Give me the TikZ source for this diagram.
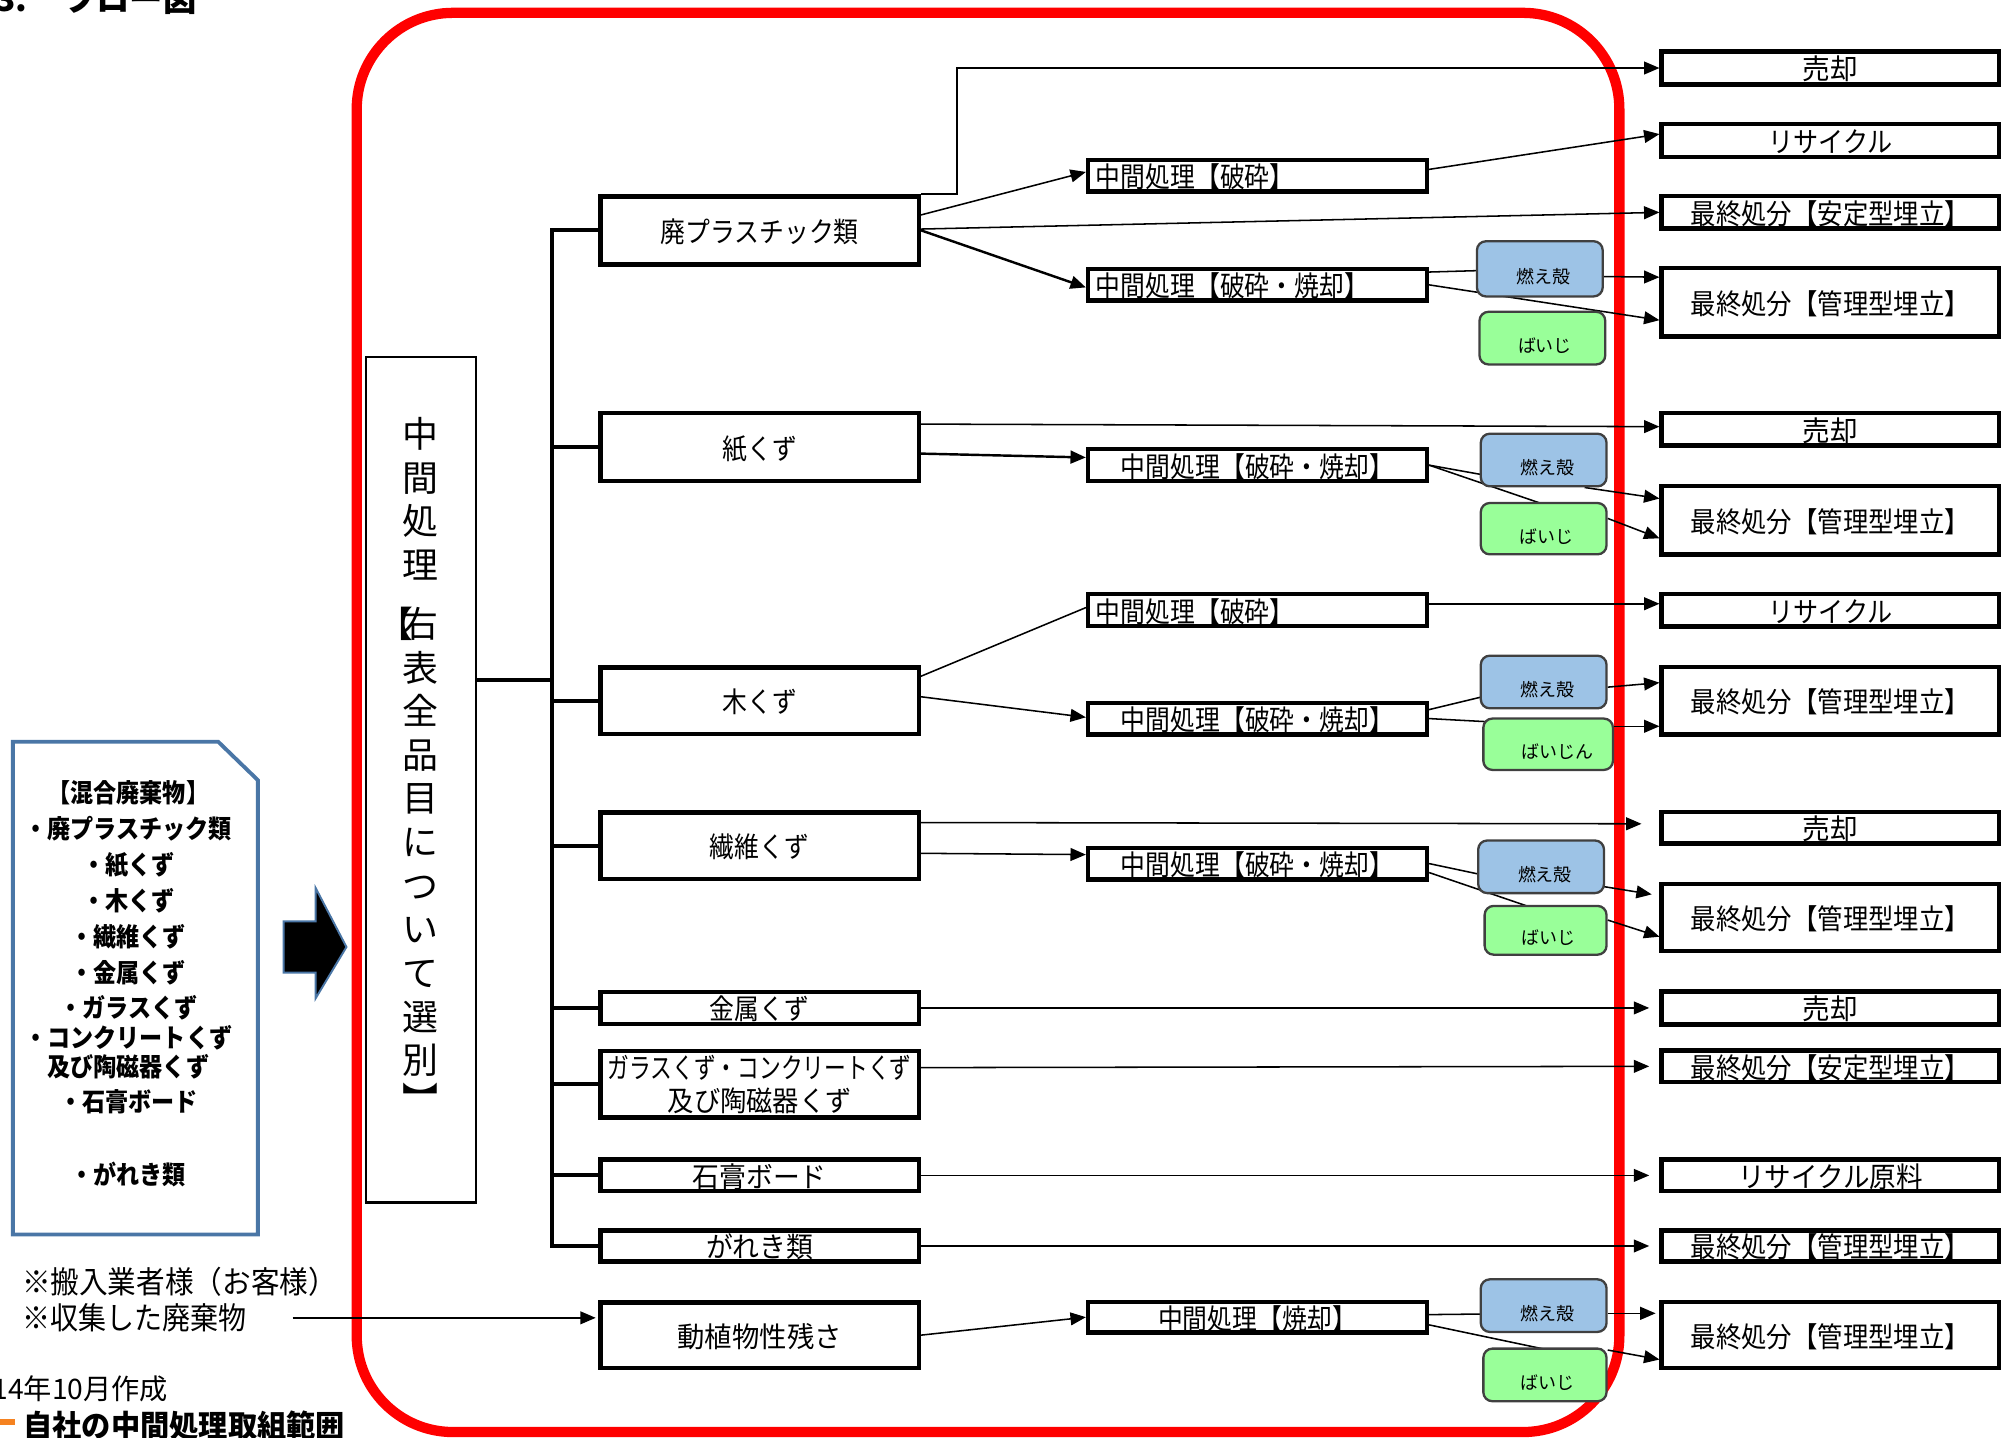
\documentclass[tikz,border=0pt]{standalone}
\usepackage{fontspec}
\setmainfont{Noto Sans CJK JP}
\usepackage{graphicx}
\usetikzlibrary{arrows.meta,calc,backgrounds}
\newcommand\hs[2][0.88]{\scalebox{#1}[1]{#2}}
\definecolor{redline}{HTML}{FF0000}
\definecolor{bluefill}{HTML}{9DC3E6}
\definecolor{greenfill}{HTML}{99FF99}
\definecolor{boxgray}{HTML}{404040}
\definecolor{leftblue}{HTML}{4A76A6}
\definecolor{legendorange}{HTML}{F58220}
\begin{document}
\begin{tikzpicture}[x=1pt,y=-1pt,
  bxbase/.style={draw, line width=3.5pt, fill=white, inner sep=0pt, font=\fontsize{22}{26}\selectfont},
  bx/.style={bxbase, text height=18.5pt, text depth=0pt},
  catbox/.style={bx, minimum width=248pt},
  midbox/.style={bx, minimum width=264pt},
  resbox/.style={bx, minimum width=263pt},
  bbox/.style={draw=boxgray, line width=1.8pt, rounded corners=7pt, fill=bluefill, inner sep=0pt, minimum width=98pt, minimum height=41pt},
  gbox/.style={draw=boxgray, line width=1.8pt, rounded corners=7pt, fill=greenfill, inner sep=0pt, minimum width=98pt, minimum height=40pt},
  smalltxt/.style={inner sep=0pt, font=\fontsize{14}{16}\selectfont},
  ln/.style={line width=1.2pt},
  arr/.style={line width=1.2pt, -{Triangle[length=12pt,width=10pt]}},
  arrb/.style={line width=1.9pt, -{Triangle[length=12pt,width=10pt]}},
  brk/.style={line width=3pt},
  plain/.style={inner sep=0pt, anchor=west}
]
\useasboundingbox (0,0) rectangle (1568,1120);

% title and notes
\node[plain, anchor=base west, font=\fontsize{26}{28}\selectfont\bfseries] (ttl) at (-4,9) {3.\kern 28pt フロー図};
\node[plain, font=\fontsize{24}{26}\selectfont] (n1) at (17,999) {\hs[0.93]{※搬入業者様（お客様）}};
\node[plain, font=\fontsize{24}{26}\selectfont] (n2) at (17,1027) {\hs[0.91]{※収集した廃棄物}};
\coordinate (c0) at (228,1027);
\node[plain, font=\fontsize{22}{24}\selectfont] (n3) at (-6,1082) {14年10月作成};
\draw[legendorange, line width=5pt] (-2,1108) -- (12,1108);
\node[plain, font=\fontsize{24}{26}\selectfont\bfseries] (n4) at (18,1111) {\hs[0.95]{自社の中間処理取組範囲}};

% left source box
\draw[leftblue, line width=3pt] (10,578) -- (170,578) -- (201,608) -- (201,962) -- (10,962) -- cycle;
\node[inner sep=0pt, anchor=north, align=center, font=\fontsize{20}{28}\selectfont\bfseries] (mix) at (100,608) {%
\hs[0.9]{【混合廃棄物】}\\
\hs[0.9]{・廃プラスチック類}\\
\hs[0.9]{・紙くず}\\
\hs[0.9]{・木くず}\\
\hs[0.9]{・繊維くず}\\
\hs[0.9]{・金属くず}\\
\hs[0.9]{・ガラスくず}\\[-5pt]
\hs[0.9]{・コンクリートくず}\\[-5pt]
\hs[0.9]{及び陶磁器くず}\\[-1pt]
\hs[0.9]{・石膏ボード}\\[29pt]
\hs[0.9]{・がれき類}};
\draw[leftblue, fill=black, line width=1.5pt] (221,718) -- (246,718) -- (246,692) -- (270,738) -- (246,778) -- (246,758) -- (221,758) -- cycle;

% tall sorting box
\node[draw, line width=1.8pt, fill=white, minimum width=86pt, minimum height=659pt] (t) at (328,607.5) {};
\node[inner sep=0pt, anchor=north, align=center, font=\fontsize{28}{34}\selectfont] (vt) at (328,325) {%
中\\間\\処\\理\\[12pt]\llap{【\kern-0.3em}右\\表\\全\\品\\目\\に\\つ\\い\\て\\選\\別\\[-3pt]︼};

% category boxes
\node[catbox, minimum height=53pt] (pl) at (592,179.5) {\hs{廃プラスチック類}};
\node[catbox, minimum height=53pt] (pa) at (592,348.5) {\hs{紙くず}};
\node[catbox, minimum height=52pt] (wo) at (592,546) {\hs{木くず}};
\node[catbox, minimum height=52pt] (fi) at (592,659) {\hs{繊維くず}};
\node[catbox, minimum height=25pt] (me) at (592,785.5) {\hs{金属くず}};
\node[bxbase, minimum width=248pt, minimum height=52pt, align=center] (gl) at (592,845) {\hs[0.77]{ガラスくず・コンクリートくず}\\\hs[0.93]{及び陶磁器くず}};
\node[catbox, minimum height=24.5pt] (gy) at (592,916) {\hs[0.95]{石膏ボード}};
\node[catbox, minimum height=24.5pt] (ru) at (592,971) {\hs[0.95]{がれき類}};
\node[catbox, minimum height=51pt] (an) at (592,1040.5) {\hs[0.97]{動植物性残さ}};

% intermediate boxes
\node[midbox, minimum height=24.5pt, text width=252pt, align=left] (m1) at (980,137) {\hs{中間処理【破砕】}};
\node[midbox, minimum height=24.5pt, text width=252pt, align=left] (m2) at (980,222) {\hs{中間処理【破砕・焼却】}};
\node[midbox, minimum height=25pt] (m3) at (980,362.5) {\hs{中間処理【破砕・焼却】}};
\node[midbox, minimum height=25pt, text width=252pt, align=left] (m4) at (980,475.5) {\hs{中間処理【破砕】}};
\node[midbox, minimum height=24.5pt] (m5) at (980,560) {\hs{中間処理【破砕・焼却】}};
\node[midbox, minimum height=24.5pt] (m6) at (980,673) {\hs{中間処理【破砕・焼却】}};
\node[midbox, minimum height=23.5pt] (m7) at (980,1026.5) {\hs{中間処理【焼却】}};

% result boxes
\node[resbox, minimum height=26pt] (r1) at (1426.5,53) {\hs[0.98]{売却}};
\node[resbox, minimum height=25.5pt] (r2) at (1426.5,109.5) {\hs[0.89]{リサイクル}};
\node[resbox, minimum height=25.5pt] (r3) at (1426.5,165.5) {\hs[0.9]{最終処分【安定型埋立】}};
\node[resbox, minimum height=53.5pt] (r4) at (1426.5,235.5) {\hs[0.9]{最終処分【管理型埋立】}};
\node[resbox, minimum height=25.5pt] (r5) at (1426.5,334.5) {\hs[0.98]{売却}};
\node[resbox, minimum height=53.5pt] (r6) at (1426.5,405.5) {\hs[0.9]{最終処分【管理型埋立】}};
\node[resbox, minimum height=25.5pt] (r7) at (1426.5,475.5) {\hs[0.89]{リサイクル}};
\node[resbox, minimum height=52.5pt] (r8) at (1426.5,546) {\hs[0.9]{最終処分【管理型埋立】}};
\node[resbox, minimum height=24.5pt] (r9) at (1426.5,645) {\hs[0.98]{売却}};
\node[resbox, minimum height=52.5pt] (r10) at (1426.5,715) {\hs[0.9]{最終処分【管理型埋立】}};
\node[resbox, minimum height=25.5pt] (r11) at (1426.5,785.5) {\hs[0.98]{売却}};
\node[resbox, minimum height=24.5pt] (r12) at (1426.5,831) {\hs[0.9]{最終処分【安定型埋立】}};
\node[resbox, minimum height=24.5pt] (r13) at (1426.5,916) {\hs[0.94]{リサイクル原料}};
\node[resbox, minimum height=24.5pt] (r14) at (1426.5,971) {\hs[0.9]{最終処分【管理型埋立】}};
\node[resbox, minimum height=51.5pt] (r15) at (1426.5,1040.5) {\hs[0.9]{最終処分【管理型埋立】}};

% residue boxes
\node[bbox, minimum height=43pt] (b1) at (1200,209.5) {};
\node[gbox, minimum height=41pt] (g1) at (1202,263.5) {};
\node[bbox] (b2) at (1203,358.5) {};
\node[gbox] (g2) at (1203,412) {};
\node[bbox] (b3) at (1203,531.5) {};
\node[gbox, minimum width=101pt] (g3) at (1206.5,580) {};
\node[bbox] (b4) at (1201,675.5) {};
\node[gbox, minimum width=95pt, minimum height=38pt] (g4) at (1204.5,725) {};
\node[bbox] (b5) at (1203,1017.5) {};
\node[gbox, minimum width=96pt, minimum height=41pt] (g5) at (1204,1071.5) {};
\node[smalltxt] (b1t) at ($(b1.center)+(3,6)$) {燃え殻};
\node[smalltxt] (g1t) at ($(g1.center)+(2,6)$) {ばいじ};
\node[smalltxt] (b2t) at ($(b2.center)+(3,6)$) {燃え殻};
\node[smalltxt] (g2t) at ($(g2.center)+(2,6)$) {ばいじ};
\node[smalltxt] (b3t) at ($(b3.center)+(3,6)$) {燃え殻};
\node[smalltxt] (g3t) at ($(g3.center)+(7,6)$) {ばいじん};
\node[smalltxt] (b4t) at ($(b4.center)+(3,6)$) {燃え殻};
\node[smalltxt] (g4t) at ($(g4.center)+(2,6)$) {ばいじ};
\node[smalltxt] (b5t) at ($(b5.center)+(3,6)$) {燃え殻};
\node[smalltxt] (g5t) at ($(g5.center)+(2,6)$) {ばいじ};

\coordinate (bx) at (430,0);

\begin{scope}[on background layer]
\draw[redline, line width=8pt, rounded corners=75pt] (278,10) rectangle (1262,1116);

% bracket
\draw[brk] ($(t.east)+(0,-77.5)$) -- ($(t.east -| bx)+(0,-77.5)$);
\draw[brk] (pl.west) -- (pl.west -| bx) -- (ru.west -| bx) -- (ru.west);
\foreach \n in {pa,wo,fi,me,gl,gy} \draw[brk] (\n.west -| bx) -- (\n.west);

% plastics
\draw[arr] (pl.north east) -- ++(28,0) |- (r1.west);
\draw[arr] ($(pl.east)+(0,-12)$) -- ($(m1.west)+(0,-3)$);
\draw[arr] ($(pl.east)+(0,-1)$) -- (r3.west);
\draw[arrb] (pl.east) -- ($(m2.west)+(0,2)$);
\draw[arr] ($(m1.east)+(0,-5)$) -- ($(r2.west)+(0,-5)$);
\draw[ln] ($(m2.east)+(0,-10)$) -- (b1.center);
\draw[arr] ($(b1.east)+(0,6)$) -- ($(r4.west)+(0,-19.5)$);
\draw[arr] (m2.east) -- ($(r4.west)+(0,14)$);

% paper
\draw[arr] ($(pa.east)+(0,-18)$) -- ($(r5.west)+(0,-2)$);
\draw[arrb] ($(pa.east)+(0,5)$) -- ($(m3.west)+(0,-6)$);
\draw[ln] (m3.east) -- ($(b2.center)+(0,20)$);
\draw[ln] (m3.east) -- ($(g2.center)+(0,-19)$);
\draw[arr] ($(b2.south east)+(-18,0)$) -- ($(r6.west)+(0,-17)$);
\draw[arr] ($(g2.east)+(0,-8)$) -- ($(r6.west)+(0,14)$);

% wood
\draw[ln] ($(wo.east)+(0,-19)$) -- ($(m4.west)+(0,-2)$);
\draw[arr] ($(wo.east)+(0,-3)$) -- ($(m5.west)+(0,-1)$);
\draw[arr] ($(m4.east)+(0,-5)$) -- ($(r7.west)+(0,-5)$);
\draw[ln] ($(m5.east)+(0,-7)$) -- (b3.center);
\draw[ln] (m5.east) -- ($(g3.center)+(0,-15)$);
\draw[arr] ($(b3.east)+(0,4)$) -- ($(r8.west)+(0,-14)$);
\draw[arr] ($(g3.east)+(0,-14)$) -- ($(r8.west)+(0,20)$);

% fibre
\draw[arr] ($(fi.east)+(0,-18)$) -- ($(r9.west)+(-14,-3)$);
\draw[arr] ($(fi.east)+(0,6)$) -- ($(m6.west)+(0,-7)$);
\draw[ln] (m6.east) -- ($(b4.center)+(0,16)$);
\draw[ln] ($(m6.east)+(0,7)$) -- ($(g4.center)+(0,-14)$);
\draw[arr] ($(b4.east)+(-10,14)$) -- ($(r10.west)+(-6,-18)$);
\draw[arr] ($(g4.east)+(0,-8)$) -- ($(r10.west)+(0,15)$);

% direct ones
\draw[arr] (me.east) -- ($(r11.west)+(-8,0)$);
\draw[arr] ($(gl.east)+(0,-13)$) -- ($(r12.west)+(-8,0)$);
\draw[arr] (gy.east) -- ($(r13.west)+(-8,0)$);
\draw[arr] (ru.east) -- ($(r14.west)+(-8,0)$);

% plant residues
\draw[arr] (c0) -- ($(an.west)+(-2,-13.5)$);
\draw[arr] (an.east) -- (m7.west);
\draw[ln] ($(m7.east)+(0,-2)$) -- ($(b5.center)+(0,6)$);
\draw[ln] ($(m7.east)+(0,6)$) -- ($(g5.center)+(0,-20)$);
\draw[arr] ($(b5.east)+(0,6)$) -- ($(r15.west)+(-3,-17)$);
\draw[arr] ($(g5.north east)+(0,2)$) -- ($(r15.west)+(0,19)$);
\end{scope}
\end{tikzpicture}
\end{document}
